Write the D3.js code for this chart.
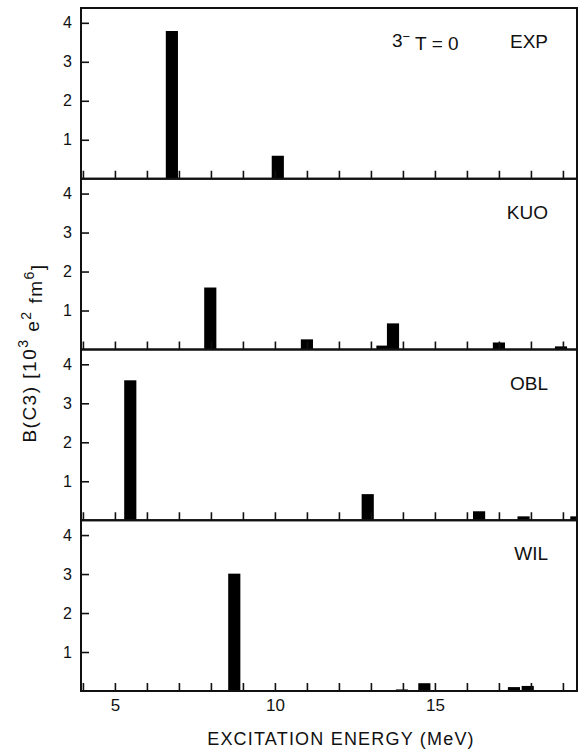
<!DOCTYPE html>
<html>
<head>
<meta charset="utf-8">
<script src="https://cdn.jsdelivr.net/npm/d3@7"></script>
<style>
  body { margin: 0; background: #fff; }
  svg text { font-family: "Liberation Sans", "DejaVu Sans", sans-serif; fill: #111; }
</style>
</head>
<body>
<div id="chart"></div>
<script>
// panel names and bar data (energy in MeV, B(C3) in 10^3 e^2 fm^6)
const panelNames = ["EXP", "KUO", "OBL", "WIL"];
const expEnergy = [6.78, 10.09];
const expValue = [3.79, 0.59];
const kuoEnergy = [7.98, 11.0, 13.36, 13.69, 17.0, 18.94];
const kuoValue = [1.59, 0.26, 0.1, 0.67, 0.18, 0.08];
const oblEnergy = [5.48, 12.9, 16.38, 17.77, 19.42];
const oblValue = [3.59, 0.67, 0.23, 0.1, 0.1];
const wilEnergy = [8.73, 13.97, 14.67, 17.47, 17.9];
const wilValue = [3.01, 0.04, 0.2, 0.1, 0.13];
const yTicks = [1, 2, 3, 4];
const xTicks = [4, 5, 6, 7, 8, 9, 10, 11, 12, 13, 14, 15, 16, 17, 18, 19];
const xTickLabels = [5, 10, 15];

const width = 578;
const height = 751;

const svg = d3
  .select("#chart")
  .append("svg")
  .attr("width", width)
  .attr("height", height);

const mLeft = 81, mRight = 577, mTop = 8, mBottom = 691;
const panelH = (mBottom - mTop) / 4;
const barW = 0.38; // MeV

const xScale = d3.scaleLinear().domain([3.94, 19.44]).range([mLeft, mRight]);

const panels = [
  { name: panelNames[0], e: expEnergy, v: expValue },
  { name: panelNames[1], e: kuoEnergy, v: kuoValue },
  { name: panelNames[2], e: oblEnergy, v: oblValue },
  { name: panelNames[3], e: wilEnergy, v: wilValue }
];

svg.append("defs").append("clipPath").attr("id", "clip")
  .append("rect").attr("x", mLeft).attr("y", mTop)
  .attr("width", mRight - mLeft).attr("height", mBottom - mTop);

panels.forEach((p, i) => {
  const y0 = mTop + i * panelH;
  const y1 = y0 + panelH;
  const yScale = d3.scaleLinear().domain([0, 4.38]).range([y1, y0]);
  const g = svg.append("g");

  // bars
  g.append("g").attr("clip-path", "url(#clip)")
    .selectAll("rect")
    .data(p.e.map((e, j) => ({ e: e, v: p.v[j] })))
    .join("rect")
    .attr("x", (d) => xScale(d.e - barW / 2))
    .attr("width", (d) => xScale(d.e + barW / 2) - xScale(d.e - barW / 2))
    .attr("y", (d) => yScale(d.v))
    .attr("height", (d) => yScale(0) - yScale(d.v))
    .attr("fill", "#000");

  // frame
  g.append("rect")
    .attr("x", mLeft).attr("y", y0)
    .attr("width", mRight - mLeft).attr("height", panelH)
    .attr("fill", "none").attr("stroke", "#111").attr("stroke-width", 2);

  // y axis
  const ya = g.append("g")
    .attr("transform", `translate(${mLeft},0)`)
    .call(d3.axisLeft(yScale).tickValues(yTicks).tickSize(-8).tickPadding(9)
      .tickFormat(d3.format("d")));
  ya.select(".domain").remove();
  ya.selectAll("line").attr("stroke", "#111").attr("stroke-width", 1.6);
  ya.selectAll("text").style("font-size", "16px");

  // x axis
  const xa = g.append("g")
    .attr("transform", `translate(0,${y1})`)
    .call(d3.axisBottom(xScale).tickValues(xTicks).tickSize(-8).tickPadding(8)
      .tickFormat((d) => (i === 3 && xTickLabels.includes(d) ? d : "")));
  xa.select(".domain").remove();
  xa.selectAll("line").attr("stroke", "#111").attr("stroke-width", 1.6);
  xa.selectAll("text").style("font-size", "17px");

  // panel label
  g.append("text")
    .attr("x", 548).attr("y", y0 + 40)
    .attr("text-anchor", "end")
    .style("font-size", "19px")
    .text(p.name);
});

// 3- T = 0 label
const lab = svg.append("text")
  .attr("x", 392).attr("y", mTop + 39)
  .style("font-size", "19px");
lab.append("tspan").text("3");
lab.append("tspan").attr("dy", "-0.45em").style("font-size", "13px").text("\u2212");
lab.append("tspan").attr("dy", "0.45em").text(" T = 0");

// x axis title
svg.append("text")
  .attr("x", 341).attr("y", 745)
  .attr("text-anchor", "middle")
  .style("font-size", "18px")
  .style("letter-spacing", "1.2px")
  .text("EXCITATION  ENERGY (MeV)");

// y axis title
const yt = svg.append("text")
  .attr("transform", `translate(36,353) rotate(-90)`)
  .attr("text-anchor", "middle")
  .style("font-size", "19px")
  .style("letter-spacing", "1.5px");
yt.append("tspan").text("B(C3)  [10");
yt.append("tspan").attr("dy", "-0.55em").style("font-size", "14px").text("3");
yt.append("tspan").attr("dy", "0.55em").text(" e");
yt.append("tspan").attr("dy", "-0.55em").style("font-size", "14px").text("2");
yt.append("tspan").attr("dy", "0.55em").text(" fm");
yt.append("tspan").attr("dy", "-0.55em").style("font-size", "14px").text("6");
yt.append("tspan").attr("dy", "0.55em").text("]");
</script>
</body>
</html>
